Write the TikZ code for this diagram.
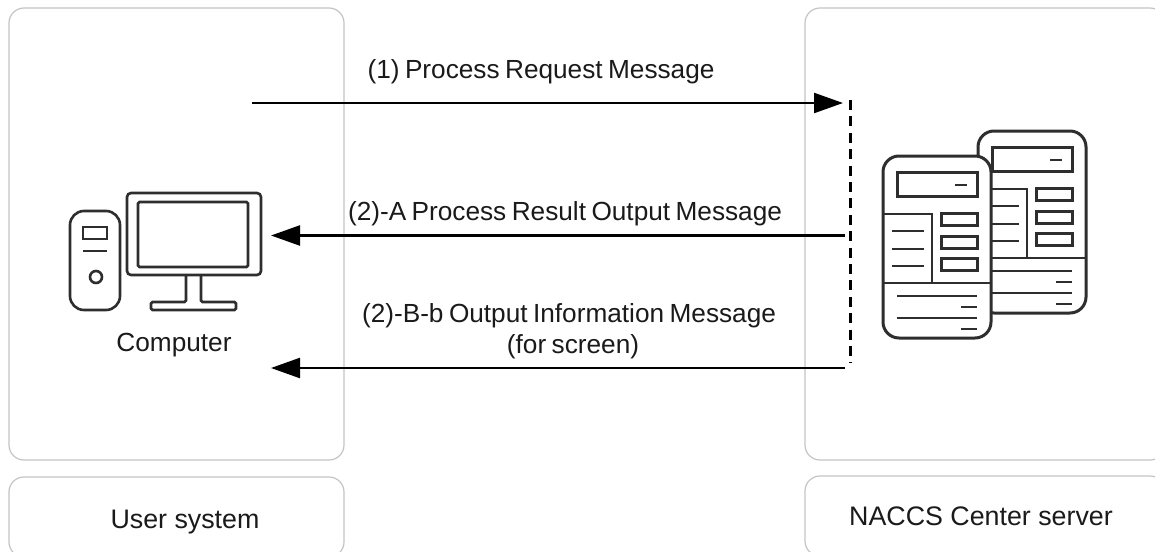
\documentclass[tikz,border=0pt]{standalone}
\usepackage{fontspec}
\setmainfont{Liberation Sans}
\newfontfamily\msgfont[WordSpace=0.75]{Liberation Sans}
\usetikzlibrary{arrows.meta}
\definecolor{panelgray}{HTML}{C4C4C4}
\definecolor{icon}{HTML}{2E2E2E}
\definecolor{txt}{HTML}{1A1A1A}
\tikzset{
  panel/.style={draw=panelgray,line width=1.2pt,rounded corners=15pt,fill=white,inner sep=0pt},
  lab/.style={anchor=base,inner sep=0pt,text=txt,font=\msgfont\fontsize{26.2pt}{30pt}\selectfont},
  biglab/.style={anchor=base,inner sep=0pt,text=txt,font=\fontsize{26.8pt}{30pt}\selectfont},
  msg/.style={line width=2.4pt,black,-{Triangle[length=29pt,width=20pt]}},
  bus/.style={line width=3pt,black,dash pattern=on 10pt off 6.4pt},
  heavy/.style={draw=icon,line width=2.6pt},
  boxy/.style={draw=icon,line width=3pt},
  thin/.style={draw=icon,line width=1.4pt},
  srv/.pic={
    \draw[heavy,line width=3pt,fill=white,rounded corners=16pt] (883,156) rectangle (991,338);
    \draw[boxy] (897,172) rectangle (977,196);
    \draw[thin] (955,185) -- (967,185);
    \draw[thin] (884,214) -- (932,214) -- (932,283);
    \draw[thin] (884,283) -- (990,283);
    \draw[boxy] (941,213) rectangle (977,225);
    \draw[boxy] (941,236) rectangle (977,248);
    \draw[boxy] (941,258) rectangle (977,270);
    \draw[thin] (892,231) -- (924,231);
    \draw[thin] (892,249) -- (924,249);
    \draw[thin] (892,266) -- (924,266);
    \draw[thin] (897,296) -- (977,296);
    \draw[thin] (961,307) -- (977,307);
    \draw[thin] (897,318) -- (977,318);
    \draw[thin] (961,329) -- (977,329);
  }
}
\begin{document}
\begin{tikzpicture}[x=1pt,y=-1pt]
\clip (0,0) rectangle (1155,551);
\fill[white] (0,0) rectangle (1155,551);
% panels
\node[panel,minimum width=335pt,minimum height=452pt] (userpanel) at (176.5,234) {};
\node[panel,minimum width=360pt,minimum height=452pt] (centerpanel) at (985,234) {};
\node[panel,minimum width=335pt,minimum height=80pt] (usertitle) at (176.5,517) {};
\node[panel,minimum width=360pt,minimum height=80pt] (centertitle) at (985,516) {};
\node[biglab] (usertext) at (185,528) {User system};
\node[biglab] (centertext) at (981,525) {NACCS Center server};
% computer
\draw[heavy,rounded corners=14pt] (70,211) rectangle (120,310);
\draw[heavy] (83,227) rectangle (107,239);
\draw[heavy] (83,251) -- (107,251);
\draw[heavy] (96,277) circle (6pt);
\draw[heavy,rounded corners=4pt] (127,193) rectangle (261,275);
\draw[heavy,rounded corners=1.5pt] (138,202) rectangle (248,267);
\draw[heavy,rounded corners=1.5pt] (186,275) -- (186,302) -- (151,302) -- (151,310) -- (236,310) -- (236,302) -- (201,302) -- (201,275);
\node[lab] (computer) at (174,351) {Computer};
% servers
\begin{scope}[shift={(95,-25)}]
\pic {srv};
\end{scope}
\pic {srv};
% connectors
\coordinate (req0) at (252,103);
\coordinate (req1) at (843,103);
\coordinate (resA0) at (845,235.5);
\coordinate (resA1) at (271,235.5);
\coordinate (resB0) at (845,368);
\coordinate (resB1) at (271,368);
\coordinate (busT) at (850,100);
\coordinate (busB) at (850,363);
\draw[bus] (busT) -- (busB);
\draw[msg] (req0) -- (req1);
\draw[msg] (resA0) -- (resA1);
\draw[msg] (resB0) -- (resB1);
\node[lab] (m1) at (541,78) {(1) Process Request Message};
\node[lab] (m2) at (565,220) {(2)-A Process Result Output Message};
\node[lab] (m3) at (569,322) {(2)-B-b Output Information Message};
\node[lab] (m4) at (573,353) {(for screen)};
\end{tikzpicture}
\end{document}
